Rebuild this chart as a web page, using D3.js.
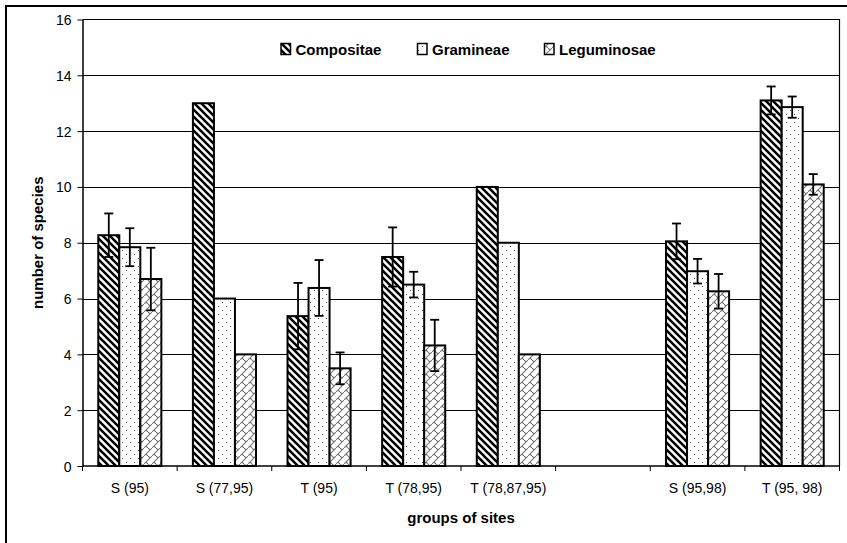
<!DOCTYPE html>
<html>
<head>
<meta charset="utf-8">
<script src="https://cdn.jsdelivr.net/npm/d3@7"></script>
<style>
  html, body { margin: 0; padding: 0; background: #fff; }
  svg { display: block; font-family: "Liberation Sans", Arial, sans-serif; }
</style>
</head>
<body>
<svg id="chart" width="847" height="543"></svg>
<script>
// Site groups (the blank slot is an empty gap in the series)
const categories = ["S (95)", "S (77,95)", "T (95)", "T (78,95)", "T (78,87,95)", "", "S (95,98)", "T (95, 98)"];
const seriesNames = ["Compositae", "Gramineae", "Leguminosae"];

// Mean number of species per family
const compositae  = [8.27, 13, 5.37, 7.49, 10, null, 8.05, 13.1];
const gramineae   = [7.84, 6, 6.38, 6.5, 8, null, 6.98, 12.86];
const leguminosae = [6.7, 4, 3.5, 4.32, 4, null, 6.26, 10.09];

// Error bar half-widths (null where no error bar is shown)
const compositaeErr  = [0.78, null, 1.19, 1.06, null, null, 0.64, 0.5];
const gramineaeErr   = [0.68, null, 1.0, 0.46, null, null, 0.44, 0.38];
const leguminosaeErr = [1.12, null, 0.57, 0.92, null, null, 0.62, 0.37];

const yTicks = [0, 2, 4, 6, 8, 10, 12, 14, 16];

const seriesValues = [compositae, gramineae, leguminosae];
const seriesErrors = [compositaeErr, gramineaeErr, leguminosaeErr];

const svg = d3.select("#chart");
const plot = { left: 82.5, right: 839.5, top: 19.5, bottom: 466 };

// Fill patterns for the three families
const defs = svg.append("defs");

const pDiag = defs.append("pattern").attr("id", "pat-comp")
  .attr("patternUnits", "userSpaceOnUse").attr("width", 7).attr("height", 7);
pDiag.append("rect").attr("width", 7).attr("height", 7).attr("fill", "#fff");
pDiag.append("path").attr("d", "M-1,-1 L8,8 M-1,6 L1,8 M6,-1 L8,1")
  .attr("stroke", "#000").attr("stroke-width", 2.5);

const pDots = defs.append("pattern").attr("id", "pat-gram")
  .attr("patternUnits", "userSpaceOnUse").attr("width", 8).attr("height", 8);
pDots.append("rect").attr("width", 8).attr("height", 8).attr("fill", "#fff");
pDots.append("rect").attr("x", 2).attr("y", 2).attr("width", 1).attr("height", 1).attr("fill", "#555");
pDots.append("rect").attr("x", 6).attr("y", 6).attr("width", 1).attr("height", 1).attr("fill", "#555");

const pShingle = defs.append("pattern").attr("id", "pat-legu")
  .attr("patternUnits", "userSpaceOnUse").attr("width", 8).attr("height", 8);
pShingle.append("rect").attr("width", 8).attr("height", 8).attr("fill", "#fff");
pShingle.append("path")
  .attr("d", "M-1,9 L9,-1 M2,6 L4,8 M4,0 L6,2")
  .attr("stroke", "#777").attr("stroke-width", 1.1).attr("fill", "none");

const fills = ["url(#pat-comp)", "url(#pat-gram)", "url(#pat-legu)"];

// Outer chart frame
svg.append("rect").attr("x", 6).attr("y", 6).attr("width", 860).attr("height", 560)
  .attr("fill", "none").attr("stroke", "#000").attr("stroke-width", 2);

// Scales: three bars per group, with a gap of 1.5 bar widths between groups
const x0 = d3.scaleBand().domain(d3.range(categories.length))
  .range([plot.left, plot.right]).paddingInner(0).paddingOuter(0);
const x1 = d3.scaleBand().domain(d3.range(seriesNames.length))
  .range([0, x0.bandwidth()]).paddingInner(0).paddingOuter(0.75);
const y = d3.scaleLinear().domain([0, 16]).range([plot.bottom, plot.top]);

// Gridlines
svg.append("g").selectAll("line").data(yTicks.filter(t => t > 0 && t < 16)).join("line")
  .attr("x1", plot.left).attr("x2", plot.right)
  .attr("y1", d => Math.round(y(d)) + 0.5).attr("y2", d => Math.round(y(d)) + 0.5)
  .attr("stroke", "#000").attr("stroke-width", 1);

// Plot area frame (top and right)
svg.append("path")
  .attr("d", `M${plot.left},${plot.top} H${plot.right} V${plot.bottom}`)
  .attr("fill", "none").attr("stroke", "#000").attr("stroke-width", 1.2);

// Y axis
const yAxis = svg.append("g").attr("transform", `translate(${plot.left},0)`)
  .call(d3.axisLeft(y).tickValues(yTicks).tickSize(5).tickPadding(6).tickSizeOuter(0));
yAxis.select(".domain").attr("stroke", "#000").attr("stroke-width", 1.5);
yAxis.selectAll(".tick line").attr("stroke", "#000");
yAxis.selectAll(".tick text").attr("font-size", "14px").attr("fill", "#000")
  .attr("font-family", "Liberation Sans, Arial, sans-serif").attr("dy", "0.36em");

// X axis: ticks sit on category boundaries
const boundaries = d3.range(categories.length + 1).map(i => plot.left + i * x0.step());
const xAxisG = svg.append("g");
xAxisG.append("line").attr("x1", plot.left).attr("x2", plot.right)
  .attr("y1", plot.bottom).attr("y2", plot.bottom).attr("stroke", "#000").attr("stroke-width", 1.5);
xAxisG.selectAll("line.tk").data(boundaries).join("line").attr("class", "tk")
  .attr("x1", d => d).attr("x2", d => d).attr("y1", plot.bottom).attr("y2", plot.bottom + 5)
  .attr("stroke", "#000");
xAxisG.selectAll("text").data(categories).join("text")
  .attr("x", (d, i) => x0(i) + x0.bandwidth() / 2).attr("y", 493)
  .attr("text-anchor", "middle").attr("font-size", "14px").text(d => d);

// Bars
seriesNames.forEach((name, s) => {
  const vals = seriesValues[s];
  const idx = d3.range(categories.length).filter(i => vals[i] != null);
  svg.append("g").selectAll("rect").data(idx).join("rect")
    .attr("x", i => x0(i) + x1(s))
    .attr("width", x1.bandwidth())
    .attr("y", i => y(vals[i]))
    .attr("height", i => plot.bottom - y(vals[i]))
    .attr("fill", fills[s]).attr("stroke", "#000").attr("stroke-width", 2);
});

// Error bars
const capHalf = 4.5;
seriesNames.forEach((name, s) => {
  const vals = seriesValues[s], errs = seriesErrors[s];
  categories.forEach((c, i) => {
    if (vals[i] == null || errs[i] == null) return;
    const cx = x0(i) + x1(s) + x1.bandwidth() / 2;
    const yt = y(vals[i] + errs[i]), yb = y(vals[i] - errs[i]);
    const g = svg.append("g").attr("stroke", "#000").attr("stroke-width", 1.8);
    g.append("line").attr("x1", cx).attr("x2", cx).attr("y1", yt).attr("y2", yb);
    g.append("line").attr("x1", cx - capHalf).attr("x2", cx + capHalf).attr("y1", yt).attr("y2", yt);
    g.append("line").attr("x1", cx - capHalf).attr("x2", cx + capHalf).attr("y1", yb).attr("y2", yb);
  });
});

// Legend
const legendX = [281, 417.5, 544.5];
const legend = svg.append("g");
seriesNames.forEach((name, s) => {
  legend.append("rect").attr("x", legendX[s]).attr("y", 43.5).attr("width", 9.5).attr("height", 11)
    .attr("fill", fills[s]).attr("stroke", "#000").attr("stroke-width", 1.5);
  legend.append("text").attr("x", legendX[s] + 14.5).attr("y", 55)
    .attr("font-size", "15px").attr("font-weight", "bold").text(name);
});

// Axis titles
svg.append("text").attr("x", (plot.left + plot.right) / 2).attr("y", 523)
  .attr("text-anchor", "middle").attr("font-size", "15px").attr("font-weight", "bold")
  .text("groups of sites");
svg.append("text")
  .attr("transform", `translate(43,${(plot.top + plot.bottom) / 2}) rotate(-90)`)
  .attr("text-anchor", "middle").attr("font-size", "15px").attr("font-weight", "bold")
  .text("number of species");
</script>
</body>
</html>
